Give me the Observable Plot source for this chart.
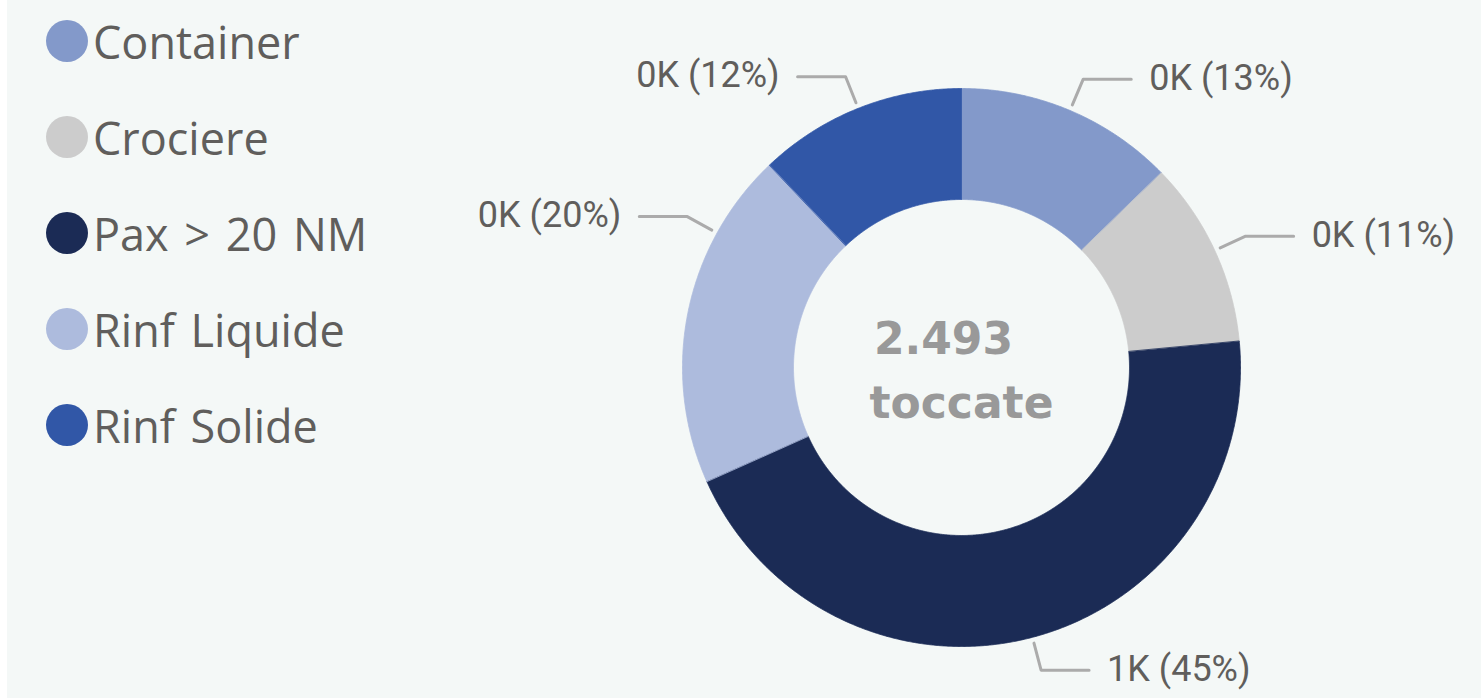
<!DOCTYPE html>
<html>
<head>
<meta charset="utf-8">
<script src="https://cdn.jsdelivr.net/npm/d3@7"></script>
<script src="https://cdn.jsdelivr.net/npm/@observablehq/plot@0.6"></script>
<style>
  html, body { margin: 0; padding: 0; background: #ffffff; width: 1481px; height: 699px; overflow: hidden; }
  #bg { position: absolute; left: 7px; top: 0; right: 0; bottom: 1px; background: #f4f8f7; }
  #chart { position: absolute; left: 0; top: 0; }
  #legend { position: absolute; left: 46px; top: -7px; font-family: "Open Sans", sans-serif; font-size: 45px; word-spacing: 4px; color: #605e5c; }
  .item { height: 96px; display: flex; align-items: center; white-space: nowrap; }
  .sw { width: 42px; height: 42px; border-radius: 50%; margin-right: 5px; flex: none; }
</style>
</head>
<body>
<div id="bg"></div>
<div id="chart"></div>
<div id="legend"></div>
<script>
// ---- data ----
const categories = ["Container", "Crociere", "Pax > 20 NM", "Rinf Liquide", "Rinf Solide"];
const values = [317, 269, 1117, 489, 301];
const centerTitle = "2.493";
const centerSubtitle = "toccate";

// ---- style ----
const palette = ["#8399ca", "#cccccc", "#1b2b55", "#adbbdd", "#3157a7"];
const labelNudgeDeg = {"Rinf Liquide": 17.6};

const W = 1481, H = 699;
const cx = 961, cy = 367;          // pixel centre of the donut
const R0 = 168, R1 = 279;          // inner / outer radius
const total = d3.sum(values);

const pie = d3.pie().sort(null).value(d => d.value);
const arcs = pie(categories.map((c, i) => ({name: c, value: values[i]})));

const rad = Math.PI / 180;
const pt = (a, r) => ({x: r * Math.sin(a), y: r * Math.cos(a)});

// slice polygons
const slicePts = [];
for (const a of arcs) {
  const n = Math.max(2, Math.ceil((a.endAngle - a.startAngle) / (0.25 * rad)));
  const ring = [];
  for (let k = 0; k <= n; k++) ring.push(pt(a.startAngle + (a.endAngle - a.startAngle) * k / n, R1));
  for (let k = n; k >= 0; k--) ring.push(pt(a.startAngle + (a.endAngle - a.startAngle) * k / n, R0));
  for (const p of ring) slicePts.push({...p, name: a.data.name});
}

// leader lines + labels
const leaderPts = [];
const labels = [];
for (const a of arcs) {
  const mid = (a.startAngle + a.endAngle) / 2 + (labelNudgeDeg[a.data.name] || 0) * rad;
  const p0 = pt(mid, 285), p1 = pt(mid, 313);
  const right = Math.sin(mid) >= 0;
  const p2 = {x: p1.x + (right ? 48 : -48), y: p1.y};
  for (const p of [p0, p1, p2]) leaderPts.push({...p, name: a.data.name});
  const pct = Math.round(a.data.value / total * 100);
  labels.push({x: p2.x, y: p2.y, right,
    text: `${Math.round(a.data.value / 1000)}K (${pct}%)`});
}

const labelStyle = {fontFamily: "Roboto, sans-serif", fontSize: 36, fill: "#605e5c"};
const centerStyle = {fontFamily: "DejaVu Sans, sans-serif", fontWeight: "bold", fontSize: 44, fill: "#999999"};

const plot = Plot.plot({
  width: W, height: H,
  margin: 0,
  x: {domain: [-cx, W - cx], axis: null},
  y: {domain: [-(H - cy), cy], axis: null},
  color: {domain: categories, range: palette},
  style: {background: "transparent", overflow: "visible"},
  marks: [
    Plot.line(slicePts, {x: "x", y: "y", z: "name", fill: "name", stroke: "name", strokeWidth: 0.8, curve: "linear-closed"}),
    Plot.line(leaderPts, {x: "x", y: "y", z: "name", stroke: "#ababab", strokeWidth: 3}),
    Plot.text(labels.filter(d => d.right), {x: "x", y: "y", text: "text", textAnchor: "start", dx: 18, dy: -1, ...labelStyle}),
    Plot.text(labels.filter(d => !d.right), {x: "x", y: "y", text: "text", textAnchor: "end", dx: -18, dy: -1, ...labelStyle}),
    Plot.text([centerTitle], {x: 0, y: 0, text: d => d, dx: -18, dy: -28, ...centerStyle}),
    Plot.text([centerSubtitle], {x: 0, y: 0, text: d => d, dx: 0, dy: 36, ...centerStyle, letterSpacing: "1.2px"})
  ]
});
document.getElementById("chart").appendChild(plot);

// legend
const leg = document.getElementById("legend");
categories.forEach((c, i) => {
  const row = document.createElement("div");
  row.className = "item";
  const sw = document.createElement("span");
  sw.className = "sw";
  sw.style.background = palette[i];
  const t = document.createElement("span");
  t.textContent = c;
  row.appendChild(sw); row.appendChild(t);
  leg.appendChild(row);
});
</script>
</body>
</html>
